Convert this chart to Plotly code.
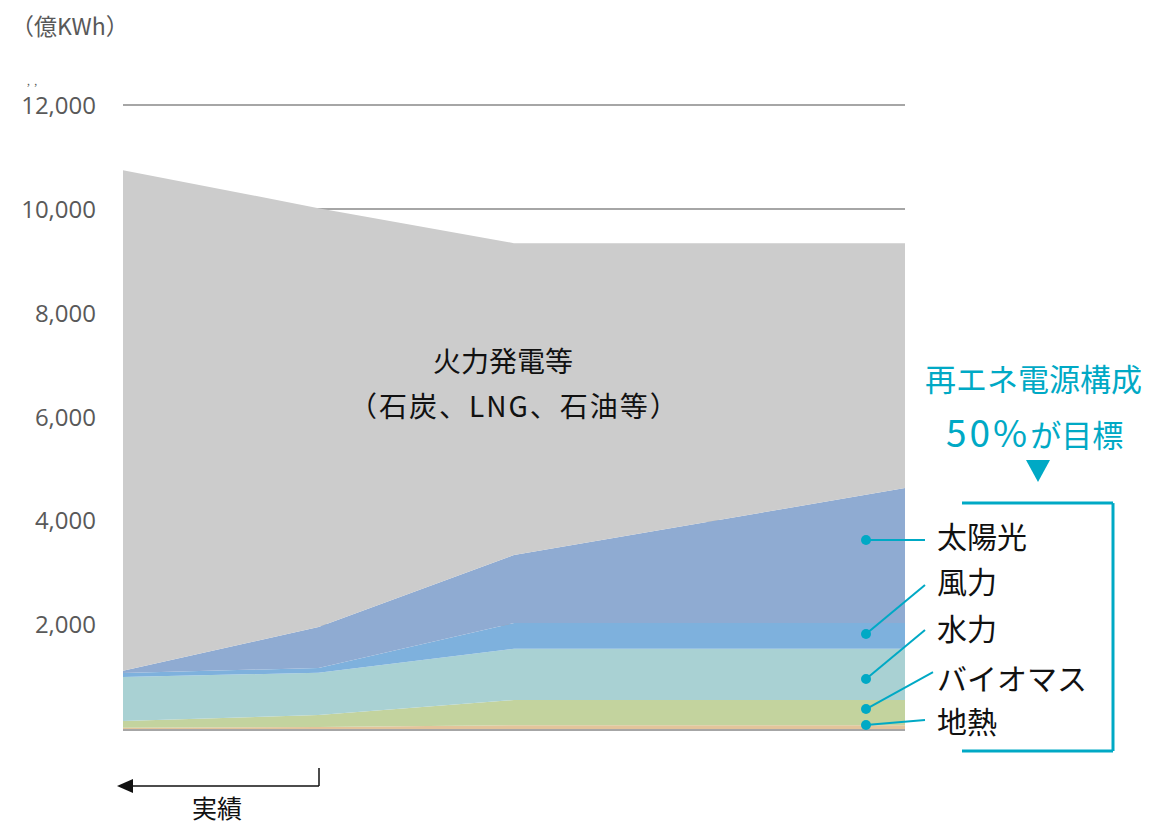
import plotly.graph_objects as go

# ---- data (億kWh) ----
years = [2010, 2015, 2020, 2030]
geothermal = [26, 38, 71, 71]
biomass = [128, 231, 487, 487]
hydro = [846, 814, 986, 986]
wind = [77, 90, 494, 494]
solar = [44, 789, 1308, 2597]
total = [10750, 10020, 9346, 9346]
thermal = [t - (g + b + h + w + s) for t, g, b, h, w, s in zip(total, geothermal, biomass, hydro, wind, solar)]

series_names = ["地熱", "バイオマス", "水力", "風力", "太陽光", "火力発電等"]
series_values = [geothermal, biomass, hydro, wind, solar, thermal]
series_colors = ["#e3c49b", "#c3d39e", "#a9d1d3", "#7eb1dd", "#8fabd2", "#cccccc"]

y_ticks = [2000, 4000, 6000, 8000, 10000, 12000]
y_tick_labels = ["2,000", "4,000", "6,000", "8,000", "10,000", "12,000"]
y_max = 12100

FONT = "Noto Sans CJK JP"
NUMFONT = "Open Sans"
CYAN = "#00a9c5"

fig = go.Figure()
for name, vals, col in zip(series_names, series_values, series_colors):
    fig.add_trace(go.Scatter(
        x=years, y=vals, name=name, stackgroup="one", mode="lines",
        line=dict(width=0, color=col), fillcolor=col, hoverinfo="skip",
    ))

# page offset of the figure (body margin)
OFF = 8
W, H = 1150, 823
# plot area in page pixels
L, R, B = 123, 905, 729
ZERO_TO_12000 = 624
T = B - ZERO_TO_12000 * y_max / 12000


def px(x):
    return (x - L) / (R - L)


def py(y):
    return (B - y) / (B - T)


shapes = []
annotations = []

# bracket
for (x0, y0, x1, y1) in [(962, 503, 1113, 503), (1113, 503, 1113, 751), (962, 751, 1113, 751)]:
    shapes.append(dict(type="line", xref="paper", yref="paper", x0=px(x0), y0=py(y0), x1=px(x1), y1=py(y1),
                       line=dict(color=CYAN, width=3)))

# leader lines + dots
leaders = [
    ("太陽光", (866, 540), (925, 540), 535),
    ("風力", (866, 634), (925, 585), 580),
    ("水力", (866, 679), (925, 630), 627),
    ("バイオマス", (866, 709), (933, 672), 677),
    ("地熱", (866, 725), (925, 720), 720),
]
for label, (dx, dy), (ex, ey), ty in leaders:
    shapes.append(dict(type="line", xref="paper", yref="paper", x0=px(dx), y0=py(dy), x1=px(ex), y1=py(ey),
                       line=dict(color=CYAN, width=2)))
    r = 5
    shapes.append(dict(type="circle", xref="paper", yref="paper", x0=px(dx - r), x1=px(dx + r),
                       y0=py(dy + r), y1=py(dy - r), fillcolor=CYAN, line=dict(width=0)))
    annotations.append(dict(text=label, xref="paper", yref="paper", x=px(935), y=py(ty),
                            xanchor="left", yanchor="middle", showarrow=False,
                            font=dict(family=FONT, size=30, color="#111111")))

# 実績 arrow
shapes.append(dict(type="line", xref="paper", yref="paper", x0=px(319), y0=py(768), x1=px(319), y1=py(786),
                   line=dict(color="#111111", width=1.5)))
shapes.append(dict(type="line", xref="paper", yref="paper", x0=px(319), y0=py(786), x1=px(130), y1=py(786),
                   line=dict(color="#111111", width=1.5)))
shapes.append(dict(type="path", xref="paper", yref="paper",
                   path=f"M {px(117)},{py(786)} L {px(133)},{py(779)} L {px(133)},{py(793)} Z",
                   fillcolor="#111111", line=dict(width=0)))
annotations.append(dict(text="実績", xref="paper", yref="paper", x=px(217), y=py(807),
                        xanchor="center", yanchor="middle", showarrow=False,
                        font=dict(family=FONT, size=25, color="#111111")))

# triangle
shapes.append(dict(type="path", xref="paper", yref="paper",
                   path=f"M {px(1026)},{py(460)} L {px(1050)},{py(460)} L {px(1038)},{py(482)} Z",
                   fillcolor=CYAN, line=dict(width=0)))

# cyan headline
annotations.append(dict(text="再エネ電源構成", xref="paper", yref="paper", x=px(1033), y=py(377),
                        xanchor="center", yanchor="middle", showarrow=False,
                        font=dict(family=FONT, size=31, color=CYAN)))
annotations.append(dict(text="<span style='font-size:37px;letter-spacing:3px'>50%</span>が目標",
                        xref="paper", yref="paper",
                        x=px(1034), y=py(431), xanchor="center", yanchor="middle", showarrow=False,
                        font=dict(family=FONT, size=31, color=CYAN)))

# thermal label
annotations.append(dict(text="火力発電等", xref="paper", yref="paper", x=px(503), y=py(360),
                        xanchor="center", yanchor="middle", showarrow=False,
                        font=dict(family=FONT, size=28, color="#111111")))
annotations.append(dict(text="<span style='letter-spacing:2px'>（石炭、LNG、石油等）</span>",
                        xref="paper", yref="paper", x=px(514), y=py(405),
                        xanchor="center", yanchor="middle", showarrow=False,
                        font=dict(family=FONT, size=28, color="#111111")))

# unit label
annotations.append(dict(text="（億KWh）", xref="paper", yref="paper", x=px(OFF + 1), y=py(25),
                        xanchor="left", yanchor="middle", showarrow=False,
                        font=dict(family=FONT, size=23, color="#595959")))
annotations.append(dict(text=",  ,", xref="paper", yref="paper", x=px(25), y=py(80),
                        xanchor="left", yanchor="middle", showarrow=False,
                        font=dict(family=FONT, size=10, color="#595959")))

fig.update_layout(
    width=W, height=H,
    margin=dict(l=L - OFF, r=W - (R - OFF), t=T - OFF, b=H - (B - OFF)),
    paper_bgcolor="white", plot_bgcolor="white",
    showlegend=False,
    shapes=shapes, annotations=annotations,
    xaxis=dict(range=[years[0], years[-1]], showticklabels=False, showgrid=False, zeroline=False,
               showline=True, linecolor="#a6a6a6", linewidth=2, ticks=""),
    yaxis=dict(range=[0, y_max], tickvals=y_ticks, ticktext=y_tick_labels,
               showgrid=True, gridcolor="#a6a6a6", gridwidth=2, zeroline=False, showline=False,
               ticks="", ticklabelstandoff=26,
               tickfont=dict(family=NUMFONT, size=24, color="#595959")),
)

fig.write_html("out.html")
